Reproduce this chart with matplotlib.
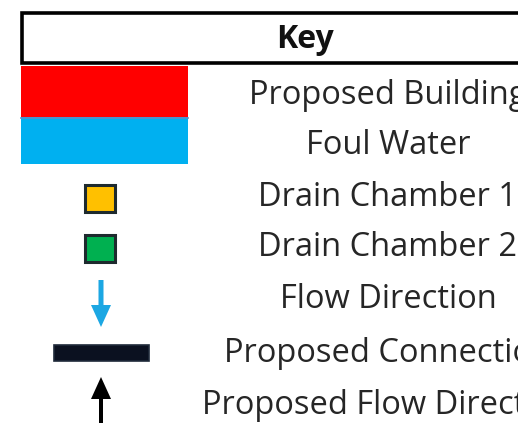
import matplotlib
matplotlib.use("Agg")
import matplotlib.pyplot as plt
from matplotlib.patches import Rectangle, FancyArrow

title = "Key"
labels = ["Proposed Building", "Foul Water", "Drain Chamber 1", "Drain Chamber 2",
          "Flow Direction", "Proposed Connection", "Proposed Flow Direction"]
kinds = ["fill", "fill", "square", "square", "arrow_down", "bar", "arrow_up"]
colors = ["#FF0000", "#00B0F0", "#FFC000", "#00B050", "#1CA7E3", "#0B1120", "#000000"]
row_y = [95, 145, 198, 248, 300, 353, 405]

W, H = 518, 434
fig = plt.figure(figsize=(W / 100, H / 100), dpi=100)
ax = fig.add_axes([0, 0, 1, 1])
ax.set_xlim(0, W)
ax.set_ylim(H, 0)
ax.axis("off")
fig.patch.set_facecolor("white")

font = "Open Sans"
# header box
ax.add_patch(Rectangle((22, 13), 620, 50, facecolor="white", edgecolor="black", lw=2.6, zorder=3))
ax.text(305, 39, title, ha="center", va="center", fontsize=23, fontweight="bold",
        family=font, color="#111111", zorder=4)

for lab, kind, col, y in zip(labels, kinds, colors, row_y):
    if kind == "fill":
        if lab == "Proposed Building":
            ax.add_patch(Rectangle((21, 66), 167, 51, facecolor=col, edgecolor="none"))
        else:
            ax.add_patch(Rectangle((21, 117), 167, 47, facecolor=col, edgecolor="none"))
            ax.plot([21, 188], [118, 118], color="#5B8FC7", lw=1.2)
    elif kind == "square":
        ax.add_patch(Rectangle((85, y - 13), 30, 27, facecolor=col, edgecolor="#1E2A2E", lw=2.2))
    elif kind == "arrow_down":
        ax.add_patch(FancyArrow(101, 280, 0, 47, width=5, head_width=20, head_length=22,
                                length_includes_head=True, color=col, lw=0))
    elif kind == "bar":
        ax.add_patch(Rectangle((54, 345), 95, 16, facecolor=col, edgecolor="#1F2A3A", lw=1.2))
    elif kind == "arrow_up":
        ax.add_patch(FancyArrow(101, 423, 0, -46, width=4, head_width=20, head_length=22,
                                length_includes_head=True, color=col, lw=0))
    ax.text(388, y, lab, ha="center", va="center", fontsize=23.5, family=font, color="#262626")

fig.savefig("out.png", dpi=100, facecolor="white")
